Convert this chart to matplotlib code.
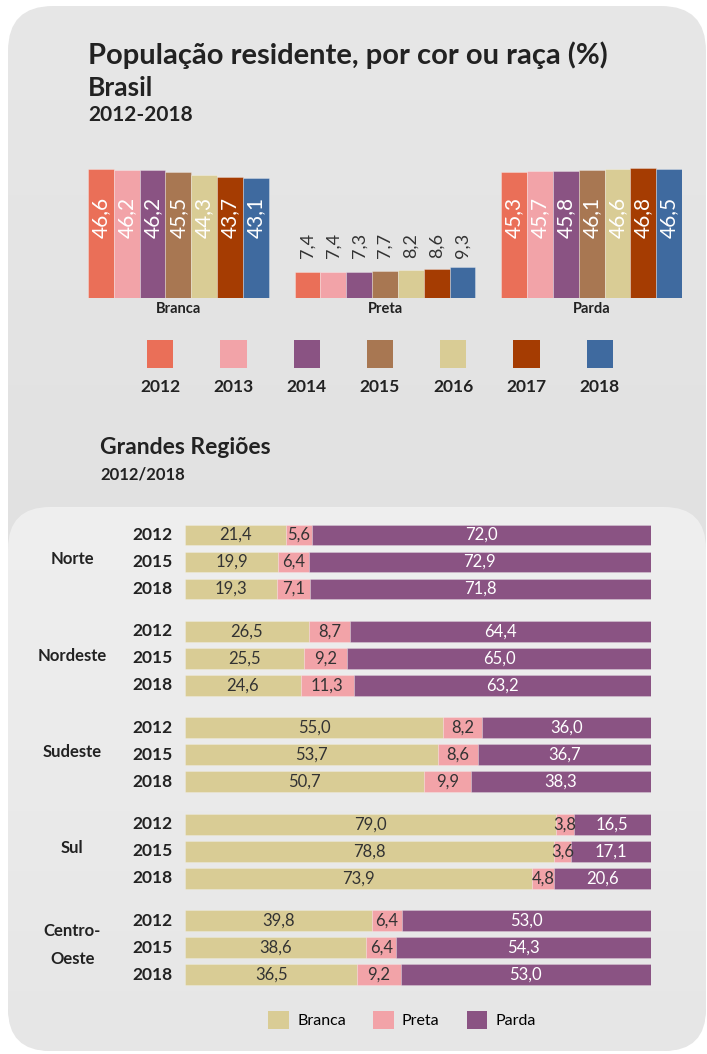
import numpy as np
import matplotlib
matplotlib.use("Agg")
import matplotlib.pyplot as plt
from matplotlib.patches import FancyBboxPatch, Patch

plt.rcParams['font.family'] = ['Lato', 'DejaVu Sans']

# ---- data ----
years = ['2012', '2013', '2014', '2015', '2016', '2017', '2018']
groups = ['Branca', 'Preta', 'Parda']
branca = [46.6, 46.2, 46.2, 45.5, 44.3, 43.7, 43.1]
preta = [7.4, 7.4, 7.3, 7.7, 8.2, 8.6, 9.3]
parda = [45.3, 45.7, 45.8, 46.1, 46.6, 46.8, 46.5]

regions = ['Norte', 'Nordeste', 'Sudeste', 'Sul', 'Centro-\nOeste']
region_years = ['2012', '2015', '2018']
reg_branca = [[21.4, 19.9, 19.3], [26.5, 25.5, 24.6], [55.0, 53.7, 50.7],
              [79.0, 78.8, 73.9], [39.8, 38.6, 36.5]]
reg_preta = [[5.6, 6.4, 7.1], [8.7, 9.2, 11.3], [8.2, 8.6, 9.9],
             [3.8, 3.6, 4.8], [6.4, 6.4, 9.2]]
reg_parda = [[72.0, 72.9, 71.8], [64.4, 65.0, 63.2], [36.0, 36.7, 38.3],
             [16.5, 17.1, 20.6], [53.0, 54.3, 53.0]]

year_colors = ['#ea6f58', '#f2a3a8', '#8a5383', '#a87752', '#d9cc95', '#a53c02', '#3f6a9f']
race_colors = ['#d9cc95', '#f2a3a8', '#8a5383']
dark = '#222222'

W, H = 707, 1054
fig = plt.figure(figsize=(W / 100, H / 100), dpi=100)


def rect(x0, y0, x1, y1):
    # pixel box (top-left origin) -> figure coords
    return [x0 / W, 1 - y1 / H, (x1 - x0) / W, (y1 - y0) / H]


# ---- background panels ----
bg = fig.add_axes([0, 0, 1, 1])
bg.set_xlim(0, W)
bg.set_ylim(H, 0)
bg.axis('off')

outer = FancyBboxPatch((8, 6), W - 9, H - 9, boxstyle='round,pad=0,rounding_size=45',
                       fc='none', ec='none')
bg.add_patch(outer)
grad = np.linspace(0, 1, 200).reshape(-1, 1)
im = bg.imshow(grad, extent=[0, W, H, 0], cmap=matplotlib.colors.LinearSegmentedColormap.from_list(
    'g', ['#e7e7e7', '#dcdcdc']), aspect='auto', zorder=0)
im.set_clip_path(outer)

lower = FancyBboxPatch((8, 507), W - 9, H - 510, boxstyle='round,pad=0,rounding_size=42',
                       fc='none', ec='none')
bg.add_patch(lower)
im2 = bg.imshow(grad, extent=[0, W, H, 507], cmap=matplotlib.colors.LinearSegmentedColormap.from_list(
    'g2', ['#efefef', '#e6e6e6']), aspect='auto', zorder=1)
im2.set_clip_path(lower)

# ---- titles ----
fig.text(88 / W, 1 - 55 / H, 'População residente, por cor ou raça (%)', fontsize=21,
         fontweight='bold', color=dark, va='center')
fig.text(88 / W, 1 - 88 / H, 'Brasil', fontsize=19, fontweight='bold', color=dark, va='center')
fig.text(88 / W, 1 - 115 / H, '2012-2018', fontsize=15, fontweight='bold', color=dark, va='center')
fig.text(100 / W, 1 - 447 / H, 'Grandes Regiões', fontsize=16.5, fontweight='bold', color=dark, va='center')
fig.text(100 / W, 1 - 475 / H, '2012/2018', fontsize=12, fontweight='bold', color=dark, va='center')

# ---- top: columns by year ----
base = -2.5
ax = fig.add_axes(rect(88, 160, 682, 298))
ax.set_xlim(-0.5, 22.5)
ax.set_ylim(base, 50)
ax.axis('off')
for g, vals in enumerate([branca, preta, parda]):
    xs = np.arange(7) + g * 8
    heights = np.array(vals) - base
    ax.bar(xs, heights, bottom=base, width=1.0, color=year_colors,
           edgecolor=(1, 1, 1, 0.35), linewidth=0.6)
    for x, v in zip(xs, vals):
        lab = f'{v:.1f}'.replace('.', ',')
        if g == 1:
            ax.text(x, max(vals) + 3.4, lab, rotation=90, ha='center', va='bottom',
                    fontsize=13, color='#333333')
        else:
            ax.text(x, 28.3, lab, rotation=90, ha='center', va='center',
                    fontsize=15, color='white')
    ax.text(xs.mean(), base - 4, groups[g], ha='center', va='center',
            fontsize=10.5, fontweight='bold', color=dark)

# year legend
lax = fig.add_axes(rect(123.5, 335, 636.5, 395))
lax.set_xlim(-0.5, 6.5)
lax.set_ylim(0, 60)
lax.axis('off')
lax.bar(np.arange(7), 28, bottom=27, width=0.36, color=year_colors)
for i, y in enumerate(years):
    lax.text(i, 8, y, ha='center', va='center', fontsize=12.5, fontweight='bold', color=dark)

# ---- bottom: stacked horizontal bars by region ----
bax = fig.add_axes(rect(185, 520, 651, 990))
bax.set_xlim(0, 100)
top_lim = (520 - 535) / 27
bot_lim = (990 - 535) / 27
bax.set_ylim(bot_lim, top_lim)
bax.axis('off')

stride = 3.57
for g, reg in enumerate(regions):
    for r, yr in enumerate(region_years):
        y = g * stride + r
        vals = np.array([reg_branca[g][r], reg_preta[g][r], reg_parda[g][r]])
        widths = vals / vals.sum() * 100
        left = 0
        for k in range(3):
            bax.barh(y, widths[k], left=left, height=0.77, color=race_colors[k],
                     edgecolor=(1, 1, 1, 0.3), linewidth=0.5)
            lab = f'{vals[k]:.1f}'.replace('.', ',')
            bax.text(left + widths[k] / 2, y, lab, ha='center', va='center', fontsize=12,
                     color='white' if k == 2 else '#333333')
            left += widths[k]
        bax.text(-2.6, y, yr, ha='right', va='center', fontsize=12.5, fontweight='bold',
                 color=dark, clip_on=False)
    bax.text(-24.2, g * stride + 0.9, reg, ha='center', va='center', fontsize=12,
             fontweight='bold', color=dark, linespacing=1.9, clip_on=False)

handles = [Patch(facecolor=c, label=l) for c, l in zip(race_colors, groups)]
fig.legend(handles=handles, ncol=3, frameon=False, loc='center',
           bbox_to_anchor=(402 / W, 1 - 1020 / H), fontsize=11.5,
           handlelength=1.3, handleheight=1.3, columnspacing=1.7, handletextpad=0.5)

fig.savefig('out.png', dpi=100)
